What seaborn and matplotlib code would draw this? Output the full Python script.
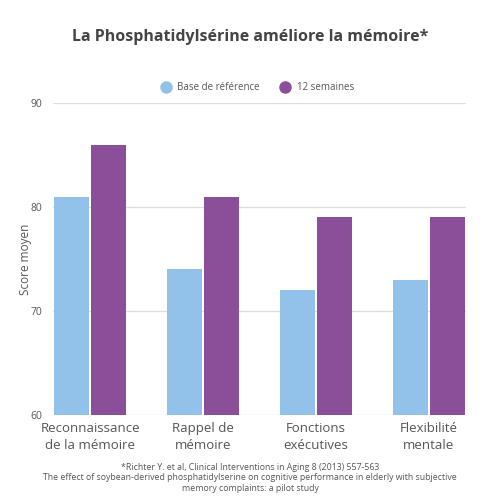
import matplotlib
matplotlib.use("Agg")
import matplotlib.pyplot as plt
import seaborn as sns
import pandas as pd
from matplotlib.lines import Line2D

categories = ["Reconnaissance\nde la mémoire", "Rappel de\nmémoire", "Fonctions\nexécutives", "Flexibilité\nmentale"]
series_names = ["Base de référence", "12 semaines"]
baseline = [81, 74, 72, 73]
weeks12 = [86, 81, 79, 79]
yticks = [60, 70, 80, 90]
colors = ["#92c1e9", "#8b4f9a"]

sns.set_theme(style="white")
plt.rcParams['font.family'] = ['Open Sans', 'DejaVu Sans']

df = pd.DataFrame({
    "cat": categories * 2,
    "serie": [series_names[0]] * 4 + [series_names[1]] * 4,
    "val": baseline + weeks12,
})

fig = plt.figure(figsize=(5, 5), dpi=100)
ax = fig.add_axes([0.106, 0.17, 0.826, 0.624])
sns.barplot(data=df, x="cat", y="val", hue="serie", palette=colors, width=0.66,
            gap=0.06, ax=ax, legend=False, saturation=1, linewidth=0)
ax.set_ylim(60, 90)
ax.set_xlim(-0.33, 3.33)
ax.set_yticks(yticks)
ax.set_yticklabels([str(t) for t in yticks], color="#555555", fontsize=7.5)
ax.grid(axis="y", color="#dddddd", linewidth=0.9)
ax.set_axisbelow(True)
for s in ax.spines.values():
    s.set_visible(False)
ax.tick_params(axis="y", length=0, pad=8)
ax.tick_params(axis="x", length=0, pad=5)
for lbl in ax.get_xticklabels():
    lbl.set_fontsize(9.5)
    lbl.set_color("#555555")
    lbl.set_linespacing(1.45)
ax.set_xlabel("")
ax.set_ylabel("Score moyen", fontsize=8.5, color="#555555")
ax.yaxis.set_label_coords(-0.05, 0.5)

fig.text(0.5, 0.926, "La Phosphatidylsérine améliore la mémoire*", ha="center", va="center",
         fontsize=11.5, fontweight="bold", color="#444444")

handles = [Line2D([0], [0], marker="o", linestyle="", markersize=8, markerfacecolor=c,
                  markeredgecolor=c) for c in colors]
fig.legend(handles, series_names, loc="center", bbox_to_anchor=(0.51, 0.824), ncol=2,
           frameon=False, fontsize=7, handletextpad=0.2, columnspacing=1.6,
           labelcolor="#555555")

fig.text(0.5, 0.066, "*Richter Y. et al, Clinical Interventions in Aging 8 (2013) 557-563",
         ha="center", va="center", fontsize=6.3, color="#555555")
fig.text(0.5, 0.054, "The effect of soybean-derived phosphatidylserine on cognitive performance in elderly with subjective\nmemory complaints: a pilot study",
         ha="center", va="top", fontsize=6.3, color="#555555", linespacing=1.25)

fig.savefig("out.png", dpi=100, facecolor="white")
